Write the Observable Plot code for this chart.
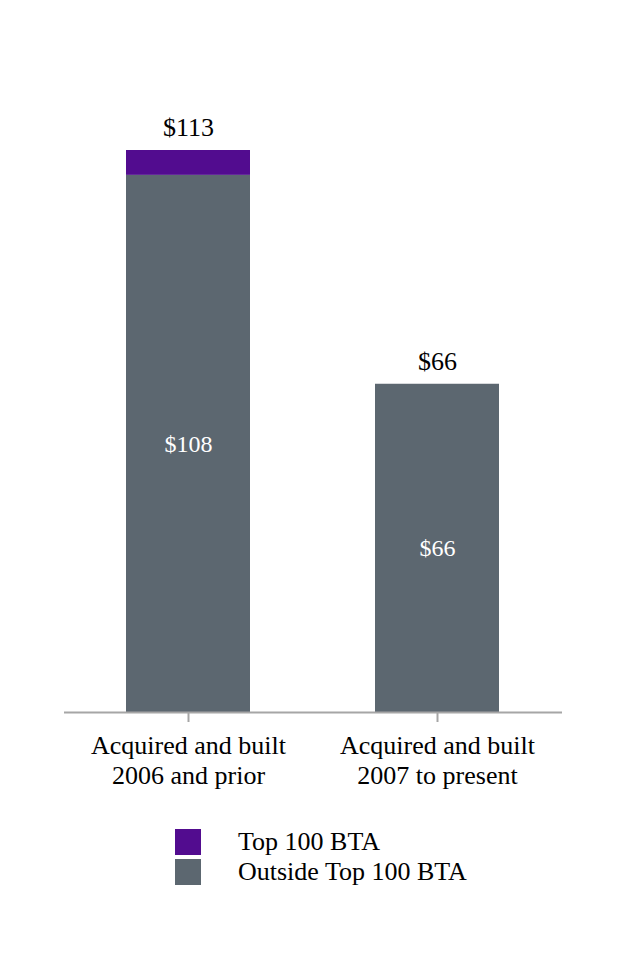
<!DOCTYPE html>
<html>
<head>
<meta charset="utf-8">
<script src="https://cdn.jsdelivr.net/npm/d3@7"></script>
<script src="https://cdn.jsdelivr.net/npm/@observablehq/plot@0.6"></script>
<style>
  html, body { margin: 0; padding: 0; background: #fff; }
  body { width: 626px; font-family: 'Liberation Serif', serif; }
  #legend { position: relative; height: 150px; }
  .item { position: absolute; left: 175px; display: flex; align-items: center; font-size: 26px; color: #000; font-family: 'Liberation Serif', serif; }
  .sw { width: 26px; height: 26px; margin-right: 37px; }
</style>
</head>
<body>
<div id="chart"></div>
<div id="legend"></div>
<script>
const categories = ["Acquired and built\n2006 and prior", "Acquired and built\n2007 to present"];
const seriesNames = ["Outside Top 100 BTA", "Top 100 BTA"];
const outsideTop100 = [108, 66];
const top100 = [5, 0];
const totals = [113, 66];
const colors = { "Top 100 BTA": "#520c8f", "Outside Top 100 BTA": "#5c6770" };

const rows = [];
categories.forEach((c, i) => {
  rows.push({ cat: c, series: seriesNames[0], value: outsideTop100[i] });
  rows.push({ cat: c, series: seriesNames[1], value: top100[i] });
});
const insideRows = categories.map((c, i) => ({ cat: c, value: outsideTop100[i] }));
const totalRows = categories.map((c, i) => ({ cat: c, value: totals[i] }));

const chart = Plot.plot({
  width: 626,
  height: 810,
  marginLeft: 64,
  marginRight: 64,
  marginTop: 150,
  marginBottom: 98,
  style: { fontFamily: "'Liberation Serif', serif", fontSize: "26px", background: "#fff", overflow: "visible" },
  x: { domain: categories, paddingInner: 0.502, paddingOuter: 0.251, label: null },
  y: { domain: [0, 113], axis: null },
  marks: [
    Plot.barY(rows, Plot.stackY({ x: "cat", y: "value", fill: d => colors[d.series], order: null })),
    Plot.ruleY([0], { stroke: "#a6a6a6", strokeWidth: 2 }),
    Plot.axisX({ tickSize: 10, tickPadding: 10, stroke: "#a6a6a6", strokeWidth: 2, fill: "#000", fontSize: 26, lineHeight: 1.16, label: null, tickFormat: d => d }),
    Plot.text(insideRows, { x: "cat", y: d => d.value / 2, text: d => "$" + d.value, fill: "#fff", fontSize: 24 }),
    Plot.text(totalRows, { x: "cat", y: "value", dy: -23, text: d => "$" + d.value, fill: "#000", fontSize: 26 })
  ]
});
document.getElementById("chart").appendChild(chart);

const legend = document.getElementById("legend");
["Top 100 BTA", "Outside Top 100 BTA"].forEach((name, i) => {
  const item = document.createElement("div");
  item.className = "item";
  item.style.top = (17 + i * 30) + "px";
  const sw = document.createElement("div");
  sw.className = "sw";
  sw.style.background = colors[name];
  const label = document.createElement("span");
  label.textContent = name;
  item.appendChild(sw);
  item.appendChild(label);
  legend.appendChild(item);
});
</script>
</body>
</html>
